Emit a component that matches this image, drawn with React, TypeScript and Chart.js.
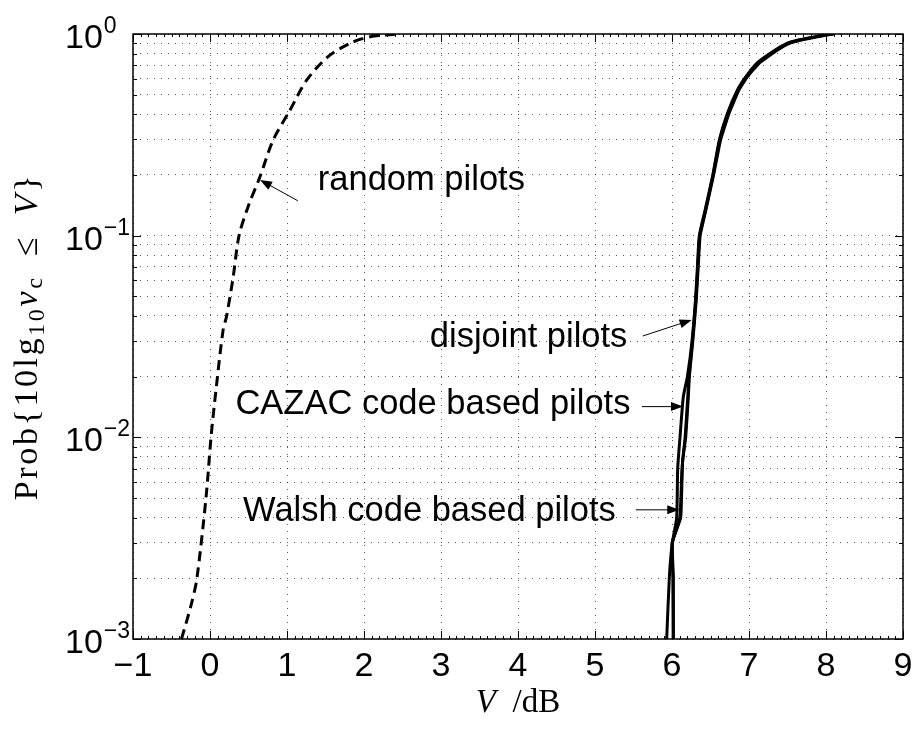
import React, { useEffect, useRef } from "react";
import { Chart, registerables } from "chart.js";

Chart.register(...registerables);

// Axis ticks
const X_TICKS = [-1, 0, 1, 2, 3, 4, 5, 6, 7, 8, 9];
const X_MINOR_STEP = 0.1;
const Y_EXPONENTS = [-3, -2, -1, 0];
const Y_MINOR = [2, 3, 4, 5, 6, 7, 8, 9];

// Empirical CDF of 10lg(v_c): random pilots (dashed)
const RANDOM_V = [-0.37, -0.24, -0.17, -0.05, 0.013, 0.078, 0.17, 0.216, 0.3, 0.377, 0.497, 0.649, 0.82, 1.04, 1.255, 1.53, 1.82, 2.08, 2.43];
const RANDOM_P = [0.001, 0.0015, 0.002, 0.0051, 0.01, 0.0172, 0.034, 0.04, 0.062, 0.1, 0.14, 0.196, 0.298, 0.42, 0.59, 0.77, 0.9, 0.97, 1.0];

// Walsh code based pilots
const WALSH_V = [6.017, 6.017, 6.004, 6.112, 6.12, 6.138, 6.178, 6.212, 6.225, 6.27, 6.315, 6.34, 6.365, 6.44, 6.54, 6.63, 6.74, 6.87, 6.98, 7.13, 7.37, 7.53, 7.68, 7.87, 8.02, 8.11];
const WALSH_P = [0.001, 0.00204, 0.003, 0.00398, 0.0045, 0.0077, 0.01, 0.0159, 0.02, 0.03, 0.048, 0.07, 0.1, 0.134, 0.2, 0.298, 0.404, 0.528, 0.614, 0.716, 0.833, 0.9, 0.933, 0.965, 0.99, 1.0];

// CAZAC code based pilots
const CAZAC_V = [5.931, 5.966, 6.004, 6.06, 6.074, 6.104, 6.147, 6.2, 6.26, 6.305, 6.33, 6.355, 6.43, 6.53, 6.615, 6.72, 6.85, 6.96, 7.1, 7.34, 7.5, 7.64, 7.83, 7.98, 8.07];
const CAZAC_P = [0.001, 0.00204, 0.003, 0.00398, 0.007, 0.01, 0.0159, 0.02, 0.03, 0.048, 0.07, 0.1, 0.134, 0.2, 0.298, 0.404, 0.528, 0.614, 0.716, 0.833, 0.9, 0.933, 0.965, 0.99, 1.0];

// disjoint pilots
const DISJOINT_V = [6.017, 6.012, 6.004, 6.1, 6.13, 6.17, 6.205, 6.22, 6.265, 6.31, 6.335, 6.36, 6.435, 6.535, 6.62, 6.73, 6.86, 6.97, 7.12, 7.36, 7.52, 7.66, 7.85, 8.0, 8.09];
const DISJOINT_P = [0.001, 0.002, 0.003, 0.00398, 0.007, 0.01, 0.0159, 0.02, 0.03, 0.048, 0.07, 0.1, 0.134, 0.2, 0.298, 0.404, 0.528, 0.614, 0.716, 0.833, 0.9, 0.933, 0.965, 0.99, 1.0];

// Curve annotations: text anchor, arrow tail and arrow tip (data coordinates)
const NOTE_TEXT = ["random pilots", "disjoint pilots", "CAZAC code based pilots", "Walsh code based pilots"];
const NOTE_ALIGN: CanvasTextAlign[] = ["left", "right", "right", "right"];
const NOTE_V = [1.4, 5.42, 5.46, 5.27];
const NOTE_P = [0.187, 0.0311, 0.0145, 0.00427];
const TAIL_V = [1.14, 5.62, 5.61, 5.53];
const TAIL_P = [0.149, 0.0318, 0.0142, 0.00437];
const TIP_V = [0.65, 6.255, 6.143, 6.094];
const TIP_P = [0.189, 0.0382, 0.0142, 0.00437];

const SANS = '"Liberation Sans", Arial, Helvetica, sans-serif';
const SERIF = '"Liberation Serif", "Times New Roman", serif';

const pts = (xs: number[], ys: number[]) => xs.map((x, i) => ({ x, y: ys[i] }));

function drawArrow(ctx: CanvasRenderingContext2D, x1: number, y1: number, x2: number, y2: number) {
  const ang = Math.atan2(y2 - y1, x2 - x1);
  const len = 12;
  const hw = 4.5;
  ctx.beginPath();
  ctx.moveTo(x1, y1);
  ctx.lineTo(x2 - Math.cos(ang) * len * 0.8, y2 - Math.sin(ang) * len * 0.8);
  ctx.lineWidth = 1;
  ctx.stroke();
  ctx.beginPath();
  ctx.moveTo(x2, y2);
  ctx.lineTo(x2 - Math.cos(ang) * len - Math.sin(ang) * hw, y2 - Math.sin(ang) * len + Math.cos(ang) * hw);
  ctx.lineTo(x2 - Math.cos(ang) * len + Math.sin(ang) * hw, y2 - Math.sin(ang) * len - Math.cos(ang) * hw);
  ctx.closePath();
  ctx.fill();
}

const decorations = {
  id: "decorations",
  afterDraw(chart: any) {
    const { ctx, chartArea: a, scales } = chart;
    const xs = scales.x;
    const ys = scales.y;
    ctx.save();
    ctx.strokeStyle = "#000";
    ctx.fillStyle = "#000";

    // tick marks (inside the frame)
    ctx.lineWidth = 1;
    ctx.beginPath();
    X_TICKS.forEach((v) => {
      const px = Math.round(xs.getPixelForValue(v)) + 0.5;
      ctx.moveTo(px, a.bottom); ctx.lineTo(px, a.bottom - 8);
      ctx.moveTo(px, a.top); ctx.lineTo(px, a.top + 8);
    });
    const nMinor = Math.round((X_TICKS[X_TICKS.length - 1] - X_TICKS[0]) / X_MINOR_STEP);
    for (let i = 1; i < nMinor; i++) {
      if (i % 10 === 0) continue;
      const px = Math.round(xs.getPixelForValue(X_TICKS[0] + i * X_MINOR_STEP)) + 0.5;
      ctx.moveTo(px, a.bottom); ctx.lineTo(px, a.bottom - 3);
      ctx.moveTo(px, a.top); ctx.lineTo(px, a.top + 3);
    }
    Y_EXPONENTS.forEach((e) => {
      const py = Math.round(ys.getPixelForValue(Math.pow(10, e))) + 0.5;
      ctx.moveTo(a.left, py); ctx.lineTo(a.left + 8, py);
      ctx.moveTo(a.right, py); ctx.lineTo(a.right - 8, py);
      if (e < 0) {
        Y_MINOR.forEach((m) => {
          const q = Math.round(ys.getPixelForValue(m * Math.pow(10, e))) + 0.5;
          ctx.moveTo(a.left, q); ctx.lineTo(a.left + 4, q);
          ctx.moveTo(a.right, q); ctx.lineTo(a.right - 4, q);
        });
      }
    });
    ctx.stroke();

    // frame
    ctx.lineWidth = 1.5;
    ctx.strokeRect(a.left, a.top, a.right - a.left, a.bottom - a.top);

    // x tick labels
    ctx.font = `34px ${SANS}`;
    ctx.textAlign = "center";
    ctx.textBaseline = "alphabetic";
    X_TICKS.forEach((v) => {
      const label = v < 0 ? "\u2212" + Math.abs(v) : String(v);
      ctx.fillText(label, xs.getPixelForValue(v), a.bottom + 37);
    });

    // y tick labels 10^e
    ctx.textAlign = "left";
    Y_EXPONENTS.forEach((e) => {
      const py = ys.getPixelForValue(Math.pow(10, e));
      const exp = e < 0 ? "\u2212" + Math.abs(e) : String(e);
      ctx.font = `34px ${SANS}`;
      const bw = ctx.measureText("10").width;
      const left = a.left - 68;
      ctx.fillText("10", left, py + 14);
      ctx.font = `23px ${SANS}`;
      ctx.fillText(exp, left + bw + 1, py - 1);
    });

    // annotations
    ctx.font = `34.5px ${SANS}`;
    ctx.textBaseline = "middle";
    NOTE_TEXT.forEach((t, i) => {
      ctx.textAlign = NOTE_ALIGN[i];
      ctx.fillText(t, xs.getPixelForValue(NOTE_V[i]), ys.getPixelForValue(NOTE_P[i]));
      drawArrow(
        ctx,
        xs.getPixelForValue(TAIL_V[i]), ys.getPixelForValue(TAIL_P[i]),
        xs.getPixelForValue(TIP_V[i]), ys.getPixelForValue(TIP_P[i])
      );
    });

    // x axis title: V /dB
    ctx.textBaseline = "alphabetic";
    ctx.textAlign = "left";
    {
      const cx = (a.left + a.right) / 2;
      const base = a.bottom + 73;
      ctx.font = `italic 33px ${SERIF}`;
      const w1 = ctx.measureText("V").width;
      ctx.font = `33px ${SERIF}`;
      const w2 = ctx.measureText("\u2002/dB").width;
      let x = cx - (w1 + w2) / 2;
      ctx.font = `italic 33px ${SERIF}`;
      ctx.fillText("V", x, base);
      x += w1;
      ctx.font = `33px ${SERIF}`;
      ctx.fillText("\u2002/dB", x, base);
    }

    // y axis title: Prob{10lg10 v_c <= V}
    {
      const parts: [string, string, number][] = [
        ["Prob{10lg", `34px ${SERIF}`, 0],
        ["10", `24px ${SERIF}`, 7],
        ["v", `italic 34px ${SERIF}`, 0],
        ["c", `24px ${SERIF}`, 5],
        ["\u2002\u2264\u2002", `34px ${SERIF}`, 0],
        ["V", `italic 34px ${SERIF}`, 0],
        ["}", `34px ${SERIF}`, 0],
      ];
      const spacing = 2.6;
      let total = 0;
      const widths = parts.map(([t, f]) => {
        ctx.font = f;
        let w = 0;
        for (const ch of t) w += ctx.measureText(ch).width + spacing;
        total += w;
        return w;
      });
      ctx.translate(37, (a.top + a.bottom) / 2);
      ctx.rotate(-Math.PI / 2);
      let x = -total / 2;
      parts.forEach(([t, f, dy], i) => {
        ctx.font = f;
        let cx = x;
        for (const ch of t) {
          ctx.fillText(ch, cx, dy);
          cx += ctx.measureText(ch).width + spacing;
        }
        x += widths[i];
      });
    }
    ctx.restore();
  },
};

export default function App() {
  const ref = useRef<HTMLCanvasElement | null>(null);

  useEffect(() => {
    if (!ref.current) return;
    const solid = (data: { x: number; y: number }[]) => ({
      data,
      showLine: true,
      borderColor: "#000",
      backgroundColor: "#000",
      borderWidth: 3,
      pointRadius: 0,
      tension: 0.2,
      fill: false,
    });
    const chart = new Chart(ref.current, {
      type: "scatter",
      data: {
        datasets: [
          {
            label: "random pilots",
            ...solid(pts(RANDOM_V, RANDOM_P)),
            borderDash: [10, 6],
            tension: 0.3,
          },
          { label: "disjoint pilots", ...solid(pts(DISJOINT_V, DISJOINT_P)) },
          { label: "CAZAC code based pilots", ...solid(pts(CAZAC_V, CAZAC_P)) },
          { label: "Walsh code based pilots", ...solid(pts(WALSH_V, WALSH_P)), tension: 0.1 },
        ],
      },
      options: {
        responsive: false,
        maintainAspectRatio: false,
        animation: false,
        devicePixelRatio: 1,
        layout: { padding: { left: 133, right: 11, top: 34, bottom: 95 } },
        plugins: { legend: { display: false }, tooltip: { enabled: false }, title: { display: false } },
        scales: {
          x: {
            type: "linear",
            min: -1,
            max: 9,
            afterBuildTicks: (s: any) => {
              s.ticks = X_TICKS.map((v) => ({ value: v }));
            },
            ticks: { display: false },
            grid: { color: "rgba(0,0,0,0.65)", lineWidth: 1, drawTicks: false },
            border: { display: false, dash: [1, 6] },
          },
          y: {
            type: "logarithmic",
            min: 0.001,
            max: 1,
            afterBuildTicks: (s: any) => {
              const t: { value: number }[] = [];
              Y_EXPONENTS.forEach((e) => {
                t.push({ value: Math.pow(10, e) });
                if (e < 0) Y_MINOR.forEach((m) => t.push({ value: m * Math.pow(10, e) }));
              });
              s.ticks = t;
            },
            ticks: { display: false },
            grid: { color: "rgba(0,0,0,0.65)", lineWidth: 1, drawTicks: false },
            border: { display: false, dash: [1, 6] },
          },
        },
      },
      plugins: [decorations],
    });
    return () => chart.destroy();
  }, []);

  return (
    <div style={{ position: "absolute", left: 0, top: 0, width: 914, height: 734, background: "#fff" }}>
      <canvas ref={ref} width={914} height={734} style={{ display: "block" }} />
    </div>
  );
}
